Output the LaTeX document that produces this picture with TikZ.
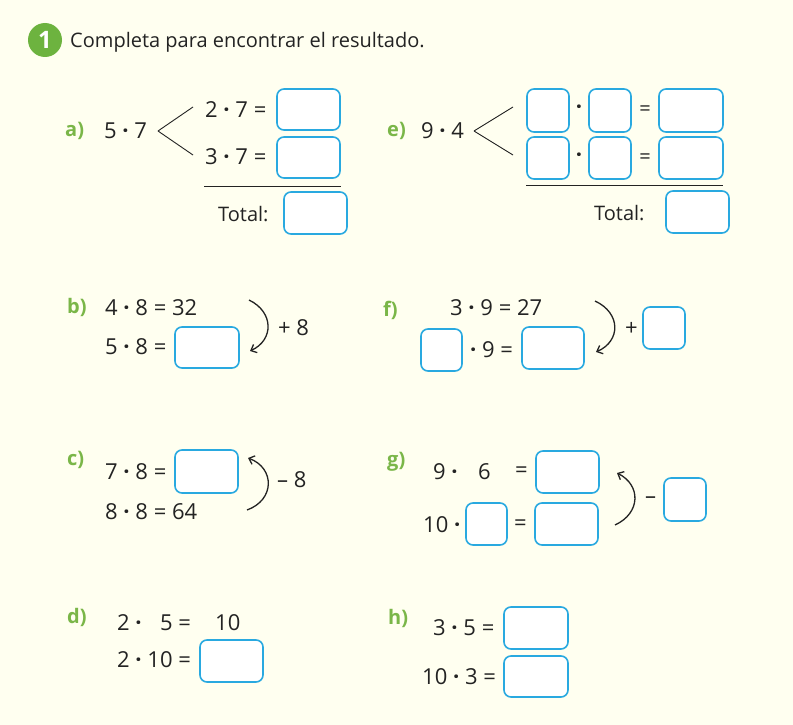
\documentclass[tikz,border=0pt]{standalone}
\usepackage{fontspec}
\setmainfont{Open Sans}
\usetikzlibrary{arrows.meta}
\definecolor{bg}{RGB}{255,255,240}
\definecolor{boxblue}{RGB}{41,169,224}
\definecolor{lblgreen}{RGB}{122,182,72}
\definecolor{circgreen}{RGB}{109,179,63}
\definecolor{ink}{RGB}{35,35,35}
\newcommand\ansbox[5]{\node[ansbox, minimum width={(#4-#2)*1pt}, minimum height={(#5-#3)*1pt}] (#1) at ({(#2+#4)/2},{(#3+#5)/2}) {};}
\newcommand\md{{\bfseries ·}}
\begin{document}
\begin{tikzpicture}[x=1pt,y=-1pt,
 ansbox/.style={draw=boxblue, line width=1.6pt, rounded corners=7pt, fill=white, inner sep=0pt},
 eq/.style={anchor=west, inner sep=0pt, font=\fontsize{22}{26}\selectfont, text=ink},
 tot/.style={anchor=west, inner sep=0pt, font=\fontsize{20}{24}\selectfont, text=ink},
 lbl/.style={anchor=west, inner sep=0pt, font=\fontsize{20}{24}\selectfont\bfseries, text=lblgreen},
 branch/.style={draw=ink, line width=0.9pt},
 rulel/.style={draw=ink, line width=1pt},
 hop/.style={draw=ink, line width=1.3pt, -{Straight Barb[length=5pt,width=9pt]}},
]
\fill[bg] (0,0) rectangle (793,725);
\useasboundingbox (0,0) rectangle (793,725);

% title
\node[circle, fill=circgreen, minimum size=34pt, inner sep=0pt, text=white, font=\fontsize{24}{26}\selectfont\bfseries] (num) at (45,40) {1};
\node[anchor=base west, inner sep=0pt, font=\fontsize{20}{24}\selectfont, text=ink] (title) at (70,48) {Completa para encontrar el resultado.};

% a)
\node[lbl] (la) at (65,131) {a)};
\node[eq] (a57) at (104,131) {5 \md{} 7};
\coordinate (a0) at (158,131);
\coordinate (aT) at (193,107);
\coordinate (aB) at (193,155);
\draw[branch] (a0) -- (aT);
\draw[branch] (a0) -- (aB);
\node[eq] (a27) at (205,110) {2 \md{} 7 =};
\node[eq] (a37) at (205,157) {3 \md{} 7 =};
\ansbox{a1}{277}{89}{340}{130}
\ansbox{a2}{277}{137}{340}{178}
\coordinate (aL1) at (204,186);
\coordinate (aL2) at (341,186);
\draw[rulel] (aL1) -- (aL2);
\node[tot] (atot) at (218,214) {Total:};
\ansbox{a3}{284}{192}{347}{234}

% e)
\node[lbl] (le) at (387,131) {e)};
\node[eq] (e94) at (421,131) {9 \md{} 4};
\coordinate (e0) at (474,131);
\coordinate (eT) at (513,107);
\coordinate (eB) at (513,155);
\draw[branch] (e0) -- (eT);
\draw[branch] (e0) -- (eB);
\ansbox{e1a}{527}{89}{569}{132}
\ansbox{e1b}{589}{89}{631}{132}
\ansbox{e1c}{659}{89}{723}{132}
\ansbox{e2a}{527}{137}{569}{179}
\ansbox{e2b}{589}{137}{631}{179}
\ansbox{e2c}{659}{137}{723}{179}
\node[eq, anchor=center] (ed1) at (579,110) {\md};
\node[eq, anchor=center] (ed2) at (579,158) {\md};
\node[tot, anchor=center] (eq1) at (645,111) {=};
\node[tot, anchor=center] (eq2) at (645,159) {=};
\coordinate (eL1) at (526,185);
\coordinate (eL2) at (723,185);
\draw[rulel] (eL1) -- (eL2);
\node[tot] (etot) at (594,213) {Total:};
\ansbox{e3}{666}{191}{729}{233}

% b)
\node[lbl] (lb) at (67,307) {b)};
\node[eq] (b1t) at (105,308) {4 \md{} 8 = 32};
\node[eq] (b2t) at (105,347) {5 \md{} 8 =};
\ansbox{b1}{175}{327}{239}{368}
\coordinate (bS) at (249,300);
\coordinate (bE) at (250,351);
\draw[hop] (bS) .. controls (274,312) and (274,340) .. (bE);
\node[eq] (bop) at (278,328) {+ 8};

% f)
\node[lbl] (lf) at (383,310) {f)};
\node[eq] (f1t) at (450,308) {3 \md{} 9 = 27};
\ansbox{f1}{421}{329}{462}{371}
\node[eq] (f2t) at (470,350) {\md{} 9 =};
\ansbox{f2}{522}{327}{584}{369}
\coordinate (fS) at (595,301);
\coordinate (fE) at (596,352);
\draw[hop] (fS) .. controls (621,313) and (621,341) .. (fE);
\node[eq] (fop) at (625,329) {+};
\ansbox{f3}{643}{307}{685}{349}

% c)
\node[lbl] (lc) at (67,460) {c)};
\node[eq] (c1t) at (105,472) {7 \md{} 8 =};
\ansbox{c1}{175}{450}{238}{493}
\node[eq] (c2t) at (105,512) {8 \md{} 8 = 64};
\coordinate (cS) at (247,510);
\coordinate (cE) at (248,458);
\draw[hop] (cS) .. controls (275,500) and (275,468) .. (cE);
\node[eq] (cop) at (277,480) {– 8};

% g)
\node[lbl] (lg) at (387,462) {g)};
\node[eq] (g1a) at (433,472) {9 \md};
\node[eq] (g1b) at (478,472) {6};
\node[eq] (g1c) at (515,472) {=};
\ansbox{g1}{536}{451}{599}{493}
\node[eq] (g2a) at (423,525) {10 \md};
\ansbox{g2}{466}{503}{507}{545}
\node[eq] (g2c) at (514,525) {=};
\ansbox{g3}{535}{503}{598}{545}
\coordinate (gS) at (615,525);
\coordinate (gE) at (617,473);
\draw[hop] (gS) .. controls (641,513) and (641,485) .. (gE);
\node[eq] (gop) at (645,500) {–};
\ansbox{g4}{664}{478}{706}{521}

% d)
\node[lbl] (ld) at (67,617) {d)};
\node[eq] (d1a) at (117,623) {2 \md};
\node[eq] (d1b) at (160,623) {5 =};
\node[eq] (d1c) at (215,623) {10};
\node[eq] (d2t) at (117,660) {2 \md{} 10 =};
\ansbox{d1}{200}{640}{263}{682}

% h)
\node[lbl] (lh) at (388,618) {h)};
\node[eq] (h1t) at (433,628) {3 \md{} 5 =};
\ansbox{h1}{504}{607}{568}{649}
\node[eq] (h2t) at (422,677) {10 \md{} 3 =};
\ansbox{h2}{504}{656}{568}{697}
\end{tikzpicture}
\end{document}
